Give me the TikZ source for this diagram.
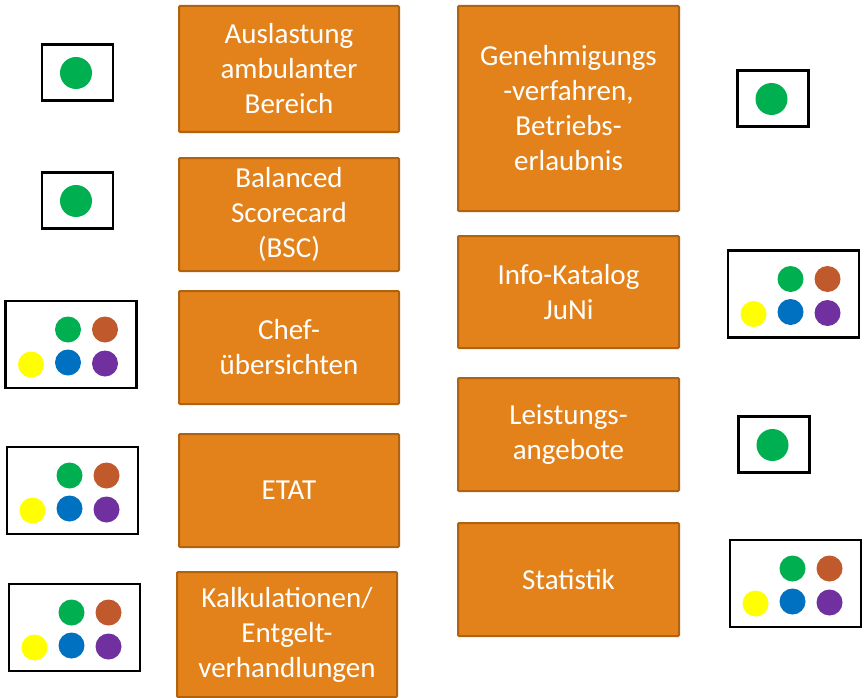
\documentclass[tikz,border=0pt]{standalone}
\usepackage{fontspec}
\setmainfont{Carlito}
\definecolor{boxfill}{HTML}{E3821A}
\definecolor{boxline}{HTML}{B0620F}
\definecolor{dgreen}{HTML}{00B050}
\definecolor{dbrown}{HTML}{C05A2C}
\definecolor{dyellow}{HTML}{FFFF00}
\definecolor{dblue}{HTML}{0070C0}
\definecolor{dpurple}{HTML}{7030A0}
\tikzset{
  obox/.style={draw=boxline, fill=boxfill, line width=2pt, rounded corners=1pt,
    text=white, align=center, inner sep=0pt, font=\fontsize{29}{35}\selectfont},
  framebox/.style={draw=black, line width=2.5pt, fill=white, inner sep=0pt},
  bigdot/.style={circle, fill=#1, draw=none, minimum size=32pt, inner sep=0pt},
  smalldot/.style={circle, fill=#1, draw=none, minimum size=26pt, inner sep=0pt}
}
\newcommand{\dotsbox}[3]{%
  \node[framebox, minimum width=131pt, minimum height=87pt] (#1) at (#2,#3) {};
  \node[smalldot=dgreen]  (#1-g) at ($(#1.center)+(-3,-15)$) {};
  \node[smalldot=dbrown]  (#1-b) at ($(#1.center)+(34,-15)$) {};
  \node[smalldot=dyellow] (#1-y) at ($(#1.center)+(-40,20)$) {};
  \node[smalldot=dblue]   (#1-l) at ($(#1.center)+(-3,18)$) {};
  \node[smalldot=dpurple] (#1-p) at ($(#1.center)+(34,19)$) {};
}
\newcommand{\greenbox}[3]{%
  \node[framebox, minimum width=71pt, minimum height=56pt] (#1) at (#2,#3) {};
  \node[bigdot=dgreen] (#1-g) at ($(#1.center)+(-1.5,0.5)$) {};
}
\usetikzlibrary{calc}
\begin{document}
\begin{tikzpicture}[x=1pt,y=-1pt]
\useasboundingbox (0,0) rectangle (864,698);
% left orange boxes
\node[obox, minimum width=220pt, minimum height=126pt] (L1) at (289,69) {Auslastung\\ambulanter\\Bereich};
\node[obox, minimum width=220pt, minimum height=113pt] (L2) at (289,214.5) {Balanced\\Scorecard\\(BSC)};
\node[obox, minimum width=220pt, minimum height=113pt] (L3) at (289,347.5) {Chef-\\übersichten};
\node[obox, minimum width=220pt, minimum height=113pt] (L4) at (289,490.5) {ETAT};
\node[obox, minimum width=220pt, minimum height=125pt] (L5) at (287,634.5) {Kalkulationen/\\Entgelt-\\verhandlungen};
% right orange boxes
\node[obox, minimum width=221pt, minimum height=205pt] (R1) at (568.5,108.5) {Genehmigungs\\-verfahren,\\Betriebs-\\erlaubnis};
\node[obox, minimum width=221pt, minimum height=112pt] (R2) at (568.5,292) {Info-Katalog\\JuNi};
\node[obox, minimum width=221pt, minimum height=113pt] (R3) at (568.5,434.5) {Leistungs-\\angebote};
\node[obox, minimum width=221pt, minimum height=113pt] (R4) at (568.5,579.5) {Statistik};
% small indicator boxes
\greenbox{G1}{77.5}{72.5}
\greenbox{G2}{77.5}{200.5}
\dotsbox{M1}{71}{344.5}
\dotsbox{M2}{72.5}{490.5}
\dotsbox{M3}{74.5}{627.5}
\greenbox{G3}{773}{98.5}
\dotsbox{M4}{793.5}{294}
\greenbox{G4}{774}{444.5}
\dotsbox{M5}{795.5}{583.5}
\end{tikzpicture}
\end{document}
